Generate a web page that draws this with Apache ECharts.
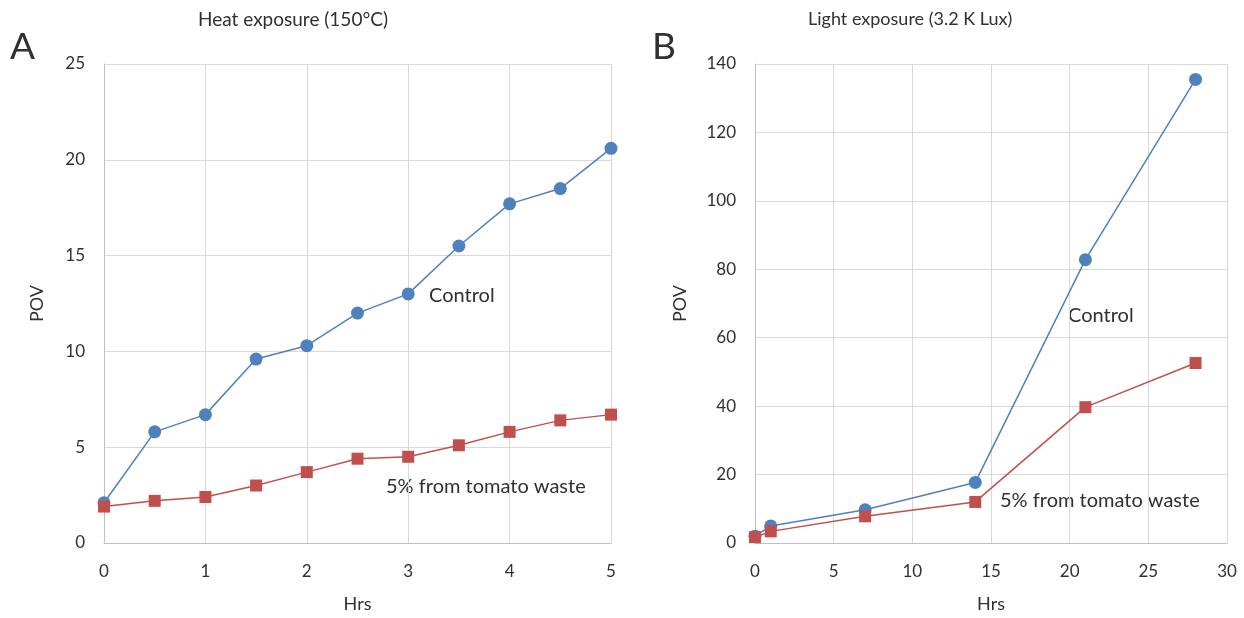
<!DOCTYPE html>
<html>
<head>
<meta charset="utf-8">
<script src="https://cdn.jsdelivr.net/npm/echarts@6/dist/echarts.min.js"></script>
<style>
  html, body { margin: 0; padding: 0; background: #fff; }
  #chart { width: 1244px; height: 618px; }
</style>
</head>
<body>
<div id="chart"></div>
<script>
// panel A: heat exposure
const hrsA = [0, 0.5, 1, 1.5, 2, 2.5, 3, 3.5, 4, 4.5, 5]
const controlA = [2.1, 5.8, 6.7, 9.6, 10.3, 12.0, 13.0, 15.5, 17.7, 18.5, 20.6]
const tomatoA = [1.9, 2.2, 2.4, 3.0, 3.7, 4.4, 4.5, 5.1, 5.8, 6.4, 6.7]

// panel B: light exposure
const hrsB = [0, 1, 7, 14, 21, 28]
const controlB = [2, 5, 9.7, 17.7, 82.8, 135.5]
const tomatoB = [1.7, 3.4, 7.8, 12.0, 39.7, 52.6]

const FONT = 'Lato, sans-serif'
const TXT = '#303030'
const BLUE = '#4f81bd'
const RED = '#c0504d'

const chart = echarts.init(document.getElementById('chart'))

const pair = (xs, ys) => xs.map((x, i) => [x, ys[i]])

const xAxisBase = (idx, max, interval) => ({
  type: 'value', gridIndex: idx, min: 0, max: max, interval: interval,
  name: 'Hrs', nameLocation: 'middle', nameGap: 52,
  nameTextStyle: { fontFamily: FONT, fontSize: 18, color: TXT },
  axisLine: { show: true, lineStyle: { color: '#bfbfbf', width: 1 } },
  axisTick: { show: false },
  axisLabel: { margin: 20, fontFamily: FONT, fontSize: 17, color: TXT },
  splitLine: { show: true, lineStyle: { color: '#d9d9d9' } }
})

const yAxisBase = (idx, max, interval, gap) => ({
  type: 'value', gridIndex: idx, min: 0, max: max, interval: interval,
  name: 'POV', nameLocation: 'middle', nameGap: gap,
  nameTextStyle: { fontFamily: FONT, fontSize: 18, color: TXT },
  axisLine: { show: true, lineStyle: { color: '#bfbfbf', width: 1 } },
  axisTick: { show: false },
  axisLabel: { margin: 19, fontFamily: FONT, fontSize: 17, color: TXT },
  splitLine: { show: true, lineStyle: { color: '#d9d9d9' } }
})

const lineSeries = (xi, yi, data, color, symbol, size) => ({
  type: 'line', xAxisIndex: xi, yAxisIndex: yi, data: data,
  symbol: symbol, symbolSize: size,
  itemStyle: { color: color },
  lineStyle: { color: color, width: 1.5 },
  emphasis: { disabled: true },
  animation: false
})

const textEl = (left, top, text, size) => ({
  type: 'text', left: left, top: top,
  style: { text: text, fontFamily: FONT, fontSize: size, fill: TXT }
})

chart.setOption({
  backgroundColor: '#fff',
  animation: false,
  grid: [
    { left: 104, top: 64, width: 507, height: 479 },
    { left: 755, top: 64, width: 472, height: 479 }
  ],
  xAxis: [xAxisBase(0, 5, 1), xAxisBase(1, 30, 5)],
  yAxis: [yAxisBase(0, 25, 5, 58), yAxisBase(1, 140, 20, 66)],
  series: [
    lineSeries(0, 0, pair(hrsA, controlA), BLUE, 'circle', 13),
    lineSeries(0, 0, pair(hrsA, tomatoA), RED, 'rect', 12),
    lineSeries(1, 1, pair(hrsB, controlB), BLUE, 'circle', 13),
    lineSeries(1, 1, pair(hrsB, tomatoB), RED, 'rect', 12)
  ],
  graphic: [
    textEl(198, 10, 'Heat exposure (150°C)', 19),
    textEl(808, 10, 'Light exposure (3.2 K Lux)', 18),
    textEl(10, 29, 'A', 37),
    textEl(652, 29, 'B', 37),
    textEl(429, 286, 'Control', 20),
    textEl(386, 477, '5% from tomato waste', 20),
    textEl(1068, 306, 'Control', 20),
    textEl(1000, 491, '5% from tomato waste', 20)
  ]
})
</script>
</body>
</html>
